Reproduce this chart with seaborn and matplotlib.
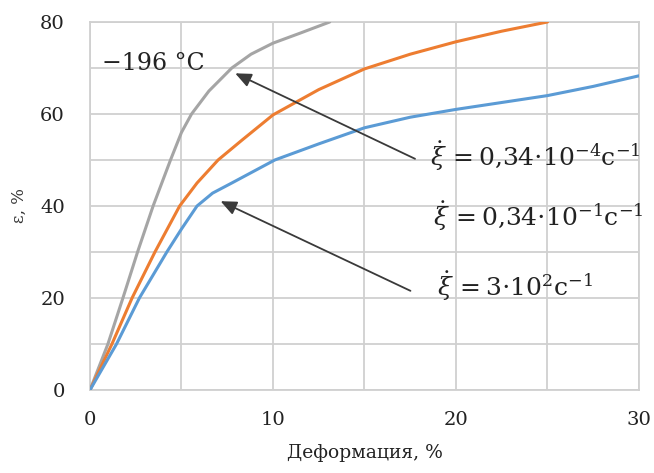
import numpy as np
import pandas as pd
import matplotlib
matplotlib.use("Agg")
import matplotlib.pyplot as plt
import seaborn as sns

# values
gray_x = [0, 0.98, 1.8, 2.6, 3.45, 4.4, 5.0, 5.55, 6.5, 7.75, 8.8, 10.0, 11.5, 13.1]
gray_y = [0, 10, 20, 30, 40, 50, 56, 60, 65, 70, 73, 75.4, 77.6, 80]

orange_x = [0, 1.2, 2.3, 3.55, 4.9, 5.85, 7.0, 8.3, 10.0, 12.5, 15.0, 17.5, 20.0, 22.5, 25.0]
orange_y = [0, 10, 20, 30, 40, 45, 50, 54.3, 59.8, 65.3, 69.8, 73, 75.7, 78, 80]

blue_x = [0, 1.45, 2.7, 4.2, 5.0, 5.85, 6.7, 7.75, 10.1, 12.5, 15.0, 17.5, 20.0, 22.5, 25.0, 27.5, 30.0]
blue_y = [0, 10, 20, 30, 35, 40, 42.8, 45, 50, 53.5, 57, 59.3, 61, 62.5, 64, 66, 68.3]

series_names = ["gray", "orange", "blue"]
colors = ["#a5a5a5", "#ed7d31", "#5b9bd5"]

rate_labels = [r"$\dot{\xi}\,=0{,}34{\cdot}10^{-4}$с$^{-1}$",
               r"$\dot{\xi}\,=0{,}34{\cdot}10^{-1}$с$^{-1}$",
               r"$\dot{\xi}\,=3{\cdot}10^{2}$с$^{-1}$"]
temp_label = "−196 °C"
x_ticks = [0, 10, 20, 30]
y_ticks = [0, 20, 40, 60, 80]

frames = []
for name, xs, ys in zip(series_names, [gray_x, orange_x, blue_x], [gray_y, orange_y, blue_y]):
    frames.append(pd.DataFrame({"x": xs, "y": ys, "s": name}))
df = pd.concat(frames, ignore_index=True)

sns.set_theme(style="white")
plt.rcParams["font.family"] = ["DejaVu Serif"]
plt.rcParams["mathtext.fontset"] = "dejavuserif"

fig = plt.figure(figsize=(6.54, 4.73), dpi=100)
ax = fig.add_axes([0.1376, 0.1755, 0.977 - 0.1376, 0.9535 - 0.1755])

sns.lineplot(data=df, x="x", y="y", hue="s", palette=dict(zip(series_names, colors)),
             sort=False, estimator=None, linewidth=2.2, legend=False, ax=ax, zorder=3)

ax.set_xlim(0, 30)
ax.set_ylim(0, 80)
ax.set_xticks(x_ticks)
ax.set_yticks(y_ticks)
ax.set_xticks([5, 15, 25], minor=True)
ax.set_yticks([10, 30, 50, 70], minor=True)
ax.grid(True, which="both", color="#d0d0d0", linewidth=1.3)
ax.tick_params(which="both", length=0, labelsize=14, colors="#222222")
ax.tick_params(axis="x", pad=15)
ax.tick_params(axis="y", pad=18)
for sp in ax.spines.values():
    sp.set_color("#d0d0d0")
    sp.set_linewidth(1.3)

ax.set_xlabel("Деформация, %", fontsize=13.5, color="#222222", labelpad=11)
ax.set_ylabel("ε, %", fontsize=12, color="#333333", labelpad=9)

ax.text(0.66, 70.9, temp_label, fontsize=17, color="#222222", va="center", ha="left")

arrow = dict(arrowstyle="-|>,head_length=0.8,head_width=0.35", color="#3a3a3a", lw=1.3)
ax.annotate("", xy=(7.8, 69.1), xytext=(17.9, 50.0), arrowprops=arrow, zorder=4)
ax.annotate("", xy=(7.0, 41.3), xytext=(17.65, 21.3), arrowprops=arrow, zorder=4)

ax.text(18.6, 50.8, rate_labels[0], fontsize=18, color="#222222", va="center", ha="left", clip_on=False)
ax.text(18.75, 37.9, rate_labels[1], fontsize=18, color="#222222", va="center", ha="left", clip_on=False)
ax.text(18.95, 22.6, rate_labels[2], fontsize=18, color="#222222", va="center", ha="left", clip_on=False)

fig.savefig("out.png", dpi=100)
